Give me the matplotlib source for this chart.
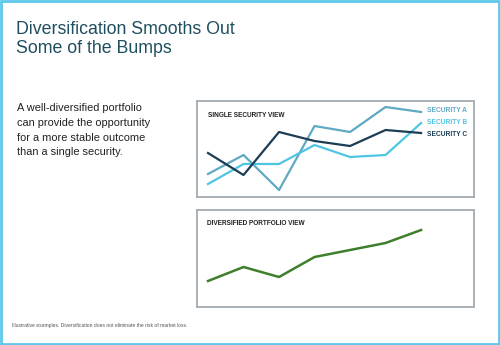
import matplotlib.pyplot as plt
from matplotlib.patches import Rectangle

plt.rcParams['font.family'] = ['Liberation Sans', 'DejaVu Sans']

## data (arbitrary performance units)
periods = [0, 1, 2, 3, 4, 5, 6]
security_a = [26, 45, 10, 74, 68, 93, 88]
security_b = [16, 36, 36, 55, 43, 45, 77]
security_c = [47, 25, 68, 59, 54, 70, 67]
portfolio = [29, 43, 33, 53, 60, 67, 80]
names = ['SECURITY A', 'SECURITY B', 'SECURITY C']

col_a = '#5fa9c2'
col_b = '#4ec5e3'
col_c = '#1b3d56'
col_green = '#3f7f2c'
box_col = '#a3abb3'

W, H = 500, 345
fig = plt.figure(figsize=(5, 3.45), dpi=100)
fig.patch.set_facecolor('white')

# light blue frame round the slide
fig.add_artist(Rectangle((0.002, 0.003), 0.996, 0.994, transform=fig.transFigure,
                         fill=False, edgecolor='#5cc8ea', lw=2))

def px_axes(x0, y0, x1, y1):
    return fig.add_axes([x0 / W, 1 - y1 / H, (x1 - x0) / W, (y1 - y0) / H])

def style(ax):
    ax.set_xticks([])
    ax.set_yticks([])
    for s in ax.spines.values():
        s.set_color(box_col)
        s.set_linewidth(1.3)
    ax.set_xlim(-0.31, 7.49)

## top panel
ax1 = px_axes(197, 101, 474, 197)
style(ax1)
ax1.set_ylim(3, 99)
ax1.plot(periods, security_a, color=col_a, lw=1.6)
ax1.plot(periods, security_b, color=col_b, lw=1.6)
ax1.plot(periods, security_c, color=col_c, lw=1.6)
ax1.text(0.04, 0.85, 'SINGLE SECURITY VIEW', transform=ax1.transAxes,
         fontsize=4.7, fontweight='bold', color='#222222', va='center')
for i, (n, c) in enumerate(zip(names, [col_a, col_b, col_c])):
    ax1.text(6.17, [89, 77, 65][i], n, fontsize=4.8, fontweight='bold',
             color=c, va='center')

## bottom panel
ax2 = px_axes(197, 210, 474, 307)
style(ax2)
ax2.set_ylim(3, 100)
ax2.plot(periods, portfolio, color=col_green, lw=1.8)
ax2.text(0.035, 0.86, 'DIVERSIFIED PORTFOLIO VIEW', transform=ax2.transAxes,
         fontsize=4.7, fontweight='bold', color='#222222', va='center')

## texts
fig.text(16 / W, 1 - 21 / H, 'Diversification Smooths Out\nSome of the Bumps',
         fontsize=12.8, color='#1f4e5f', va='top', ha='left', linespacing=1.18)
fig.text(17 / W, 1 - 103 / H,
         'A well-diversified portfolio\ncan provide the opportunity\n'
         'for a more stable outcome\nthan a single security.',
         fontsize=7.9, color='#222222', va='top', ha='left', linespacing=1.6)
fig.text(12 / W, 1 - 325 / H,
         'Illustrative examples. Diversification does not eliminate the risk of market loss.',
         fontsize=3.6, color='#555555', va='center', ha='left')

fig.savefig('out.png', dpi=100)
